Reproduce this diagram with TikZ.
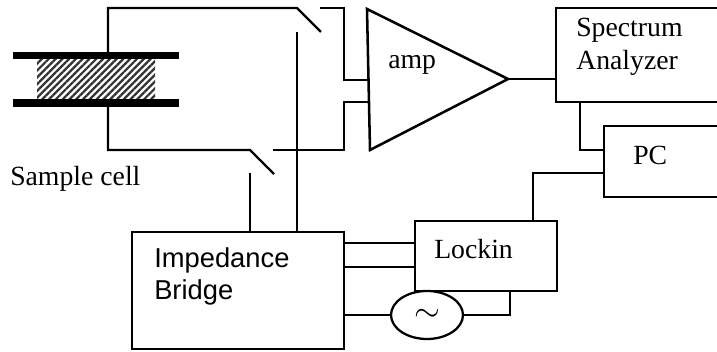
\documentclass[tikz,border=0pt]{standalone}
\usepackage{fontspec}
\setmainfont{Liberation Serif}
\newfontfamily\bridgefont{Liberation Sans}
\usetikzlibrary{patterns.meta,shapes.geometric}

\begin{document}
\begin{tikzpicture}[
  x=0.75pt, y=-0.75pt,
  wire/.style={line width=1.7pt},
  box/.style={rectangle, draw, line width=1.7pt, outer sep=0pt, inner sep=0pt},
  plate/.style={rectangle, fill=black, outer sep=0pt, inner sep=0pt, minimum width=124.5pt, minimum height=5.5pt},
  txt/.style={inner sep=0pt, align=left, font=\fontsize{20.8}{25}\selectfont}
]
\clip[use as bounding box] (0,0) rectangle (717,352);
% sample cell
\node[rectangle, inner sep=0pt, outer sep=0pt, minimum width=88.5pt, minimum height=30pt,
  pattern={Lines[angle=45,distance=3.6pt,line width=1.7pt]}, pattern color=black!80] (sample) at (96,79) {};
\node[plate] (plateT) at (96,55.5) {};
\node[plate] (plateB) at (96,103) {};
\node[txt, anchor=base west] (samplelabel) at (10,186) {Sample cell};
% boxes
\node[box, minimum width=138pt, minimum height=70.5pt] (analyzer) at (648,55) {};
\node[box, minimum width=102pt, minimum height=53.25pt] (pc) at (672,161.5) {};
\node[box, minimum width=106.5pt, minimum height=52.5pt] (lockin) at (486,256) {};
\node[box, minimum width=159pt, minimum height=87.75pt] (bridge) at (238,290.5) {};
\node[ellipse, draw, fill=white, line width=1.7pt, inner sep=0pt, outer sep=0pt, minimum width=54pt, minimum height=36pt,
  font=\fontsize{27}{27}\selectfont] (osc) at (427,315) {$\sim$};
% box labels
\node[txt, anchor=base west] (analyzerlabel) at (576,70) {Spectrum\\Analyzer};
\node[txt, anchor=base west] (pclabel) at (633,165) {PC};
\node[txt, anchor=base west] (lockinlabel) at (434,259) {Lockin};
\node[txt, anchor=base west, font=\fontsize{20.5}{24}\bridgefont] (bridgelabel) at (154,300) {Impedance\\Bridge};
\node[txt, anchor=base west] (amplabel) at (388,69) {amp};
% amplifier
\coordinate (ampT) at (367,9);
\coordinate (ampB) at (370,150);
\coordinate (ampO) at (508,79);
\draw[wire, line width=1.9pt, line join=miter] (ampT) -- (ampB) -- (ampO) -- cycle;
% attachment points
\coordinate (swT) at (297,8);
\coordinate (swTb) at (321,32);
\coordinate (swTc) at (320,8);
\coordinate (swB) at (250,150);
\coordinate (swBb) at (274,174);
\coordinate (swBc) at (273,150);
\coordinate (ampI) at (368,80);
\coordinate (ampJ) at (369,102);
% top branch
\draw[wire] (plateT.north -| 108,0) |- (swT) -- (swTb);
\draw[wire] (swTc) -| (344,80) -- (ampI);
% bottom branch
\draw[wire] (plateB.south -| 108,0) |- (swB) -- (swBb);
\draw[wire] (swBc) -| (344,102) -- (ampJ);
% switch controls
\draw[wire] (bridge.north -| 250,0) -- (250,173);
\draw[wire] (bridge.north -| 297,0) -- (297,32);
% signal path
\draw[wire] (ampO) -- (analyzer.west |- ampO);
\draw[wire] (analyzer.south -| 580,0) |- (pc.west |- 0,150);
\draw[wire] (pc.west |- 0,173) -| (lockin.north -| 533,0);
% bridge to lockin
\draw[wire] (bridge.east |- 0,243) -- (lockin.west |- 0,243);
\draw[wire] (bridge.east |- 0,267) -- (lockin.west |- 0,267);
\draw[wire] (bridge.east |- osc) -- (osc);
\draw[wire] (osc) -| (lockin.south -| 510,0);
\end{tikzpicture}
\end{document}
